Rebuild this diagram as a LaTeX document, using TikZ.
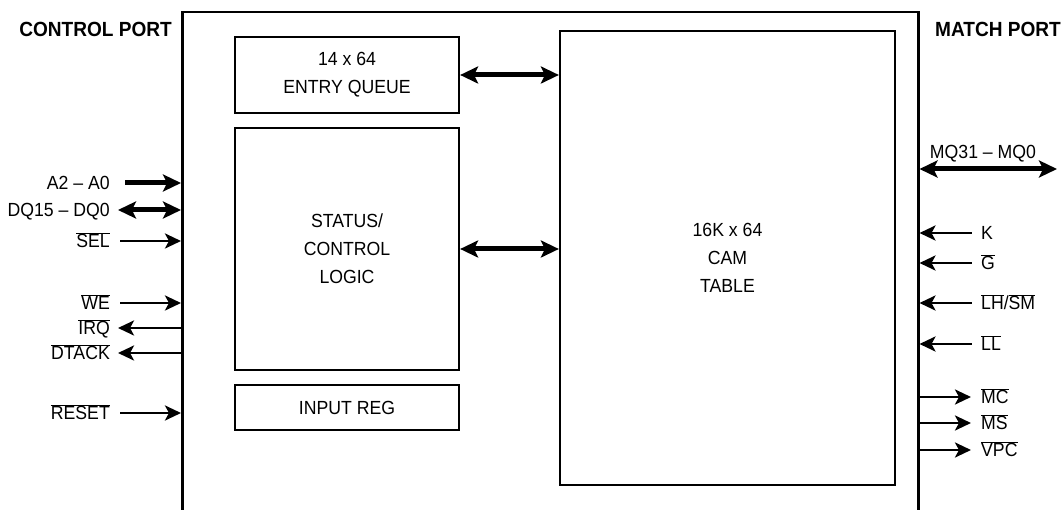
\documentclass[tikz,border=0pt]{standalone}
\usepackage{fontspec}
\setmainfont{Liberation Sans}[FakeStretch=0.93]
\usetikzlibrary{arrows.meta}
\newcommand\ovl[1]{$\overline{\mbox{#1}}$}
\begin{document}
\begin{tikzpicture}[x=1pt,y=-1pt,
  font=\fontsize{19}{28}\selectfont,
  blk/.style={draw, line width=2.2pt, inner sep=0pt, align=center},
  thin/.style={line width=2.8pt, -{Stealth[length=16pt,width=15pt,inset=4pt]}},
  thinr/.style={line width=2.8pt, {Stealth[length=16pt,width=15pt,inset=4pt]}-},
  thick/.style={line width=5pt, -{Stealth[length=18pt,width=17pt,inset=4pt]}},
  bidir/.style={line width=5pt, {Stealth[length=18pt,width=17pt,inset=4pt]}-{Stealth[length=18pt,width=17pt,inset=4pt]}},
  lbl/.style={inner sep=0pt, text height=13pt, text depth=0pt},
  title/.style={font=\fontsize{20.5}{24}\selectfont\bfseries, inner sep=0pt, text height=15pt, text depth=0pt}]
\useasboundingbox (0,0) rectangle (1061,510);
\clip (0,0) rectangle (1061,510);
% outer chip
\node[draw, line width=2.5pt, minimum width=736pt, minimum height=540pt, anchor=north west, inner sep=0pt] (chip) at (181,11) {};
% blocks
\node[blk, minimum width=224pt, minimum height=76pt] (queue) at (347,75) {14 x 64\\ENTRY QUEUE};
\node[blk, minimum width=224pt, minimum height=242pt] (status) at (347,249) {STATUS/\\CONTROL\\LOGIC};
\node[blk, minimum width=224pt, minimum height=45pt] (inreg) at (347,407.5) {INPUT REG};
\node[blk, minimum width=335pt, minimum height=454pt] (cam) at (727.5,258) {16K x 64\\CAM\\TABLE};
\draw[bidir] (queue.east) -- (cam.west |- queue.east);
\draw[bidir] (status.east) -- (cam.west |- status.east);
% titles
\node[title, anchor=east] (ctl) at (172,29) {CONTROL PORT};
\node[title, anchor=west] (mat) at (935,29) {MATCH PORT};
% left side
\node[lbl, anchor=east] (a2) at (110,183) {A2 -- A0};
\node[lbl, anchor=east] (dq) at (110,210) {DQ15 -- DQ0};
\node[lbl, anchor=east] (sel) at (110,241) {\ovl{SEL}};
\node[lbl, anchor=east] (we) at (110,303) {\ovl{WE}};
\node[lbl, anchor=east] (irq) at (110,328) {\ovl{IRQ}};
\node[lbl, anchor=east] (dtack) at (110,353) {\ovl{DTACK}};
\node[lbl, anchor=east] (reset) at (110,413) {\ovl{RESET}};
\draw[thick] ([xshift=15pt]a2.east) -- (chip.west |- a2.east);
\draw[bidir] ([xshift=8pt]dq.east) -- (chip.west |- dq.east);
\draw[thin] ([xshift=10pt]sel.east) -- (chip.west |- sel.east);
\draw[thin] ([xshift=10pt]we.east) -- (chip.west |- we.east);
\draw[thinr] ([xshift=8pt]irq.east) -- (chip.west |- irq.east);
\draw[thinr] ([xshift=8pt]dtack.east) -- (chip.west |- dtack.east);
\draw[thin] ([xshift=10pt]reset.east) -- (chip.west |- reset.east);
% right side
\coordinate (mqend) at (1057,169);
\node[lbl] (mq) at (983,152) {MQ31 -- MQ0};
\draw[bidir] (chip.east |- mqend) -- (mqend);
\node[lbl, anchor=west] (k) at (981,233) {K};
\node[lbl, anchor=west] (g) at (981,263) {\ovl{G}};
\node[lbl, anchor=west] (lh) at (981,303) {\ovl{LH}/\ovl{SM}};
\node[lbl, anchor=west] (ll) at (981,344) {\ovl{LL}};
\node[lbl, anchor=west] (mc) at (981,397) {\ovl{MC}};
\node[lbl, anchor=west] (ms) at (981,423) {\ovl{MS}};
\node[lbl, anchor=west] (vpc) at (981,450) {\ovl{VPC}};
\draw[thinr] (chip.east |- k.west) -- ([xshift=-9pt]k.west);
\draw[thinr] (chip.east |- g.west) -- ([xshift=-9pt]g.west);
\draw[thinr] (chip.east |- lh.west) -- ([xshift=-9pt]lh.west);
\draw[thinr] (chip.east |- ll.west) -- ([xshift=-9pt]ll.west);
\draw[thin] (chip.east |- mc.west) -- ([xshift=-10pt]mc.west);
\draw[thin] (chip.east |- ms.west) -- ([xshift=-10pt]ms.west);
\draw[thin] (chip.east |- vpc.west) -- ([xshift=-10pt]vpc.west);
\end{tikzpicture}
\end{document}
